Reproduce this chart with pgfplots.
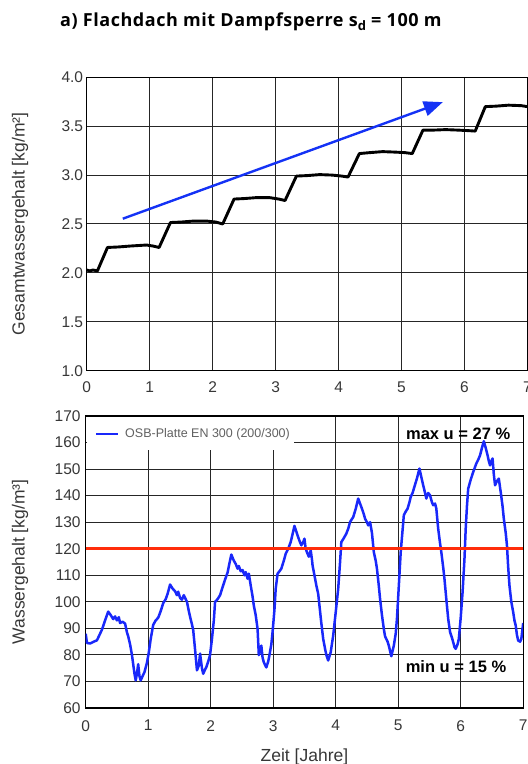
\documentclass[border=0pt]{standalone}
\usepackage{fontspec}
\setmainfont{Liberation Sans}
\newfontfamily\titlefont{Open Sans}[LetterSpace=3.0]
\usepackage{pgfplots}
\pgfplotsset{compat=1.18}
\usetikzlibrary{arrows.meta}
\definecolor{curveblue}{RGB}{25,40,250}
\definecolor{arrowblue}{RGB}{20,50,245}
\definecolor{limitred}{RGB}{255,45,10}
\definecolor{txt}{RGB}{55,55,55}
\newcommand{\ticksize}{\fontsize{15.5bp}{18bp}\selectfont}
\newcommand{\labsize}{\fontsize{17.5bp}{20bp}\selectfont}
\pgfplotsset{
  common/.style={
    scale only axis,
    grid=major,
    major grid style={black!85, line width=1bp},
    axis line style={black, line width=1.3bp},
    major tick length=0pt,
    tick style={draw=none},
    every tick label/.append style={inner sep=0pt, text=txt, font=\ticksize},
    /pgf/number format/assume math mode=true,
    label style={text=txt, font=\labsize},
  }
}
\begin{document}
\begin{tikzpicture}
\useasboundingbox (0,0) rectangle (528bp,764bp);
\node[anchor=base west, inner sep=0pt, font=\titlefont\bfseries\fontsize{18bp}{21bp}\selectfont] at (60bp,737.7bp) {a) Flachdach mit Dampfsperre s\raisebox{-0.25em}{\fontsize{13bp}{14bp}\selectfont d} = 100 m};

% ---------------- top axis ----------------
\begin{axis}[common,
  at={(86.7bp,393.3bp)}, anchor=south west,
  width=440.8bp, height=293.4bp,
  xmin=0, xmax=7, ymin=1, ymax=4,
  xtick={0,1,2,3,4,5,6,7},
  ytick={1,1.5,2,2.5,3,3.5,4},
  yticklabel style={/pgf/number format/fixed, /pgf/number format/fixed zerofill, /pgf/number format/precision=1, xshift=-3.4bp},
  xticklabel style={yshift=-10.5bp},
  ylabel={Gesamtwassergehalt [kg/m²]},
  ylabel style={at={([xshift=-66.7bp]axis description cs:0,0.5)}, anchor=center, rotate=0},
]
\addplot[black, line width=2.9bp, line join=round] coordinates {
(0,2.03) (0.05,2.02) (0.1,2.03) (0.17,2.02) (0.33,2.26) (0.5,2.265) (0.7,2.275) (0.95,2.285) (1.05,2.275) (1.15,2.26)
(1.33,2.515) (1.5,2.52) (1.7,2.53) (1.9,2.53) (2.05,2.52) (2.16,2.50)
(2.34,2.755) (2.5,2.76) (2.7,2.77) (2.9,2.77) (3.05,2.755) (3.15,2.74)
(3.33,2.99) (3.5,2.995) (3.7,3.005) (3.9,3.0) (4.05,2.99) (4.15,2.98)
(4.33,3.22) (4.5,3.23) (4.7,3.24) (4.9,3.235) (5.05,3.23) (5.17,3.22)
(5.34,3.46) (5.5,3.46) (5.7,3.465) (5.9,3.46) (6.05,3.455) (6.17,3.45)
(6.33,3.70) (6.5,3.705) (6.7,3.715) (6.9,3.71) (7,3.70)
};
\draw[arrowblue, line width=2.4bp, -{Triangle[length=19bp, width=15bp]}] (axis cs:0.573,2.554) -- (axis cs:5.655,3.746);
\end{axis}

% ---------------- bottom axis ----------------
\begin{axis}[common,
  at={(85.7bp,56bp)}, anchor=south west,
  width=437.5bp, height=292bp,
  xmin=0, xmax=7, ymin=60, ymax=170,
  xtick={0,1,2,3,4,5,6,7},
  ytick={60,70,...,170},
  yticklabel style={xshift=-5bp},
  xticklabel style={yshift=-12bp},
  ylabel={Wassergehalt [kg/m³]},
  ylabel style={at={([xshift=-65.7bp]axis description cs:0,0.5)}, anchor=center, rotate=0},
  xlabel={Zeit [Jahre]},
  xlabel style={at={([yshift=-48.5bp]axis description cs:0.5,0)}, anchor=center},
  legend style={at={(axis cs:0.149,163.3)}, anchor=west, draw=none, fill=none, inner sep=0pt,
     font=\fontsize{12.5bp}{14bp}\selectfont, text=black!62, nodes={inner sep=0pt}, column sep=6bp},
  legend image code/.code={\draw[#1, line width=2bp] (0bp,0bp) -- (22bp,0bp);},
]
\fill[white] (axis cs:0.015,157.3) rectangle (axis cs:3.34,169.75);
\addplot[curveblue, line width=2.5bp, line join=round] coordinates {
(0,88) (0.02,84.5) (0.07,84.3) (0.13,85) (0.18,85.5) (0.22,87.5) (0.26,89.5) (0.31,93) (0.36,96.3) (0.40,95) (0.44,93.5) (0.47,94.5) (0.50,93) (0.53,94.2) (0.55,92) (0.59,92.5) (0.63,91.8) (0.66,88.5) (0.68,87) (0.71,84) (0.74,80) (0.76,76.5) (0.78,73) (0.80,70.4) (0.82,73) (0.84,76.5) (0.86,72) (0.88,70.4) (0.91,72) (0.94,73.5) (0.98,77)
(1.01,81) (1.04,86) (1.08,91.3) (1.12,93) (1.16,94) (1.20,96.5) (1.24,99.5) (1.28,101) (1.31,103) (1.35,106.5) (1.39,105) (1.43,104) (1.46,102.5) (1.48,103.8) (1.51,101.5) (1.54,100.8) (1.57,102.5) (1.59,101.5) (1.62,100) (1.65,96.5) (1.67,94.4) (1.70,91.5) (1.72,89.4) (1.75,82) (1.78,74.2) (1.81,76) (1.83,80.5) (1.86,75) (1.88,72.9) (1.91,74.5) (1.93,75.4) (1.96,77.5) (1.99,80)
(2.02,86) (2.05,93) (2.07,100) (2.11,101) (2.15,102.5) (2.19,105.5) (2.23,108.4) (2.27,111) (2.30,114.5) (2.33,117.8) (2.37,115.5) (2.40,114.3) (2.43,112.5) (2.45,113.5) (2.48,111.5) (2.51,112) (2.54,110) (2.56,111.2) (2.59,108.7) (2.61,110.6) (2.64,106.2) (2.67,102) (2.69,98.6) (2.72,95) (2.75,89.8) (2.77,79.9) (2.79,82) (2.81,83.5) (2.83,79) (2.85,77.2) (2.89,75.3) (2.92,77.5) (2.94,79.9) (2.97,84) (2.99,88.6)
(3.02,97) (3.04,104.9) (3.07,110.6) (3.10,111.5) (3.13,112.5) (3.17,115.5) (3.20,118.1) (3.24,120) (3.28,122.5) (3.31,125.5) (3.34,128.6) (3.37,126.5) (3.39,125) (3.42,123) (3.45,121.3) (3.48,122.5) (3.50,123.8) (3.52,120) (3.54,118.7) (3.57,117) (3.60,119.4) (3.62,116) (3.63,113.7) (3.66,110) (3.69,106.2) (3.72,103) (3.74,98.6) (3.77,92) (3.80,86) (3.83,82.3) (3.85,80) (3.88,77.9) (3.90,79.5) (3.92,81) (3.96,87.3)
(4.0,96) (4.04,104.9) (4.07,115) (4.09,122.5) (4.13,124) (4.17,125.7) (4.20,127.5) (4.23,130.1) (4.28,131.9) (4.32,135) (4.36,138.9) (4.39,137) (4.42,135.1) (4.45,133) (4.47,131.3) (4.50,130) (4.52,128.8) (4.55,130) (4.58,126) (4.61,118.7) (4.64,115.5) (4.66,112.5) (4.69,106) (4.71,101.1) (4.74,95) (4.77,89.8) (4.79,87) (4.81,86) (4.83,85) (4.85,83.5) (4.87,81.5) (4.89,79.5) (4.91,81.5) (4.93,83.5) (4.96,88) (4.98,93.6)
(5.01,106) (5.04,118.7) (5.07,127) (5.09,132.6) (5.12,134) (5.15,135.1) (5.18,137.5) (5.20,139.5) (5.23,141) (5.25,142.6) (5.30,146.5) (5.34,150.2) (5.37,147) (5.40,143.9) (5.43,141) (5.45,138.9) (5.48,141) (5.51,140.1) (5.54,137.5) (5.56,136.4) (5.59,137) (5.61,135.1) (5.64,127.5) (5.67,122) (5.69,118.7) (5.72,113) (5.74,108.7) (5.77,101) (5.80,93.6) (5.83,88.6) (5.86,86.5) (5.88,84.8) (5.90,83) (5.92,82.3) (5.95,84) (5.97,86)
(6.00,94) (6.03,103.6) (6.06,116) (6.08,127.5) (6.10,136) (6.12,142.6) (6.16,146) (6.20,148.9) (6.25,152.1) (6.28,153.5) (6.31,155.2) (6.34,158) (6.37,160.5) (6.40,158) (6.43,155.2) (6.45,153) (6.47,151.4) (6.49,153) (6.51,154) (6.53,148) (6.55,143.9) (6.58,145.5) (6.61,146.4) (6.63,143) (6.64,141.4) (6.67,136) (6.69,131.3) (6.72,126) (6.74,121.3) (6.76,113) (6.78,106.2) (6.81,100) (6.84,96.1) (6.86,93) (6.88,91.1) (6.90,87.5) (6.92,85.4) (6.95,85) (6.97,86) (6.99,90) (7.0,92)
};
\addlegendentry{OSB-Platte EN 300 (200/300)}
\addplot[limitred, line width=2.7bp, forget plot] coordinates {(0,120) (7,120)};
\node[font=\bfseries\fontsize{16.5bp}{18bp}\selectfont] at (axis cs:5.96,163.2) {max u = 27 \%};
\node[font=\bfseries\fontsize{16.5bp}{18bp}\selectfont] at (axis cs:5.925,75.6) {min u = 15 \%};
\end{axis}
\end{tikzpicture}
\end{document}
